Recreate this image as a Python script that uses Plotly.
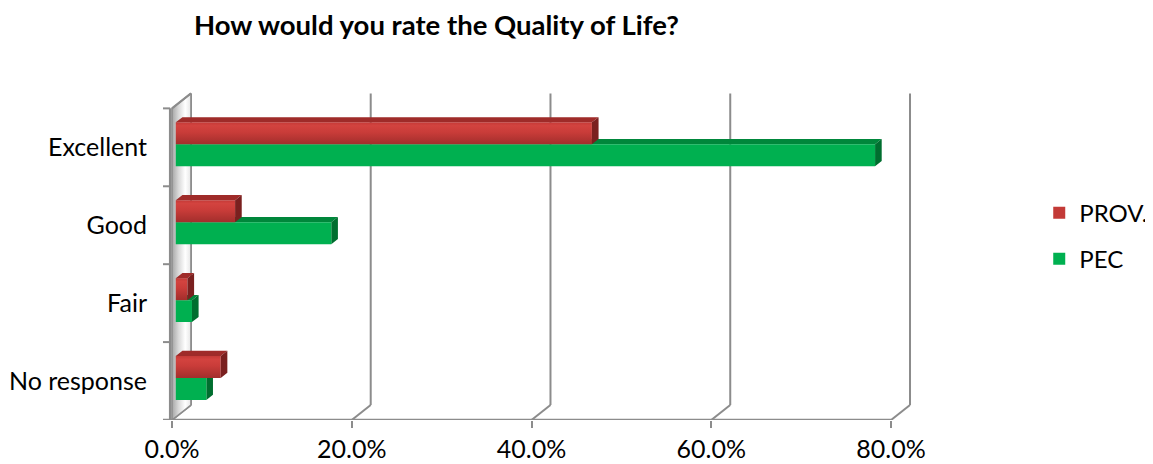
import plotly.graph_objects as go

# ---------------- data ----------------
categories = ["No response", "Fair", "Good", "Excellent"]
prov_values = [5.0, 1.3, 6.6, 46.3]      # PROV. (%)
pec_values = [3.4, 1.8, 17.3, 77.8]      # PEC (%)
x_tick_values = [0, 20, 40, 60, 80]
x_tick_labels = ["0.0%", "20.0%", "40.0%", "60.0%", "80.0%"]
series_names = ["PROV.", "PEC"]

# ---------------- 3-D geometry (data units) ----------------
DU = 2.11    # depth of the chart box along x (in %)
DV = 0.192   # depth of the chart box along y (category units)
D0, D1 = 0.2, 0.55   # bar front / back depth fraction
BH = 0.282   # bar thickness (category units)
GRID = "#8c8c8c"
FONT = "Lato"

RED_TOP, RED_SIDE = "#9f2b29", "#7a201f"
GRN_FRONT, GRN_TOP, GRN_SIDE = "#00b050", "#00873b", "#006e2f"

# page body has an 8px default margin -> figure is 8px smaller
FIG_W, FIG_H = 1145, 456

fig = go.Figure()

# left wall (side face) with metallic gradient
fig.add_trace(go.Scatter(
    x=[0, DU, DU, 0, 0], y=[0, DV, 4 + DV, 4, 0], mode="lines",
    line=dict(color=GRID, width=1.5), fill="toself",
    fillgradient=dict(type="horizontal",
                      colorscale=[[0, "#a6a6a6"], [0.35, "#d9d9d9"], [0.7, "#ffffff"], [1, "#e6e6e6"]],
                      start=0, stop=DU),
    hoverinfo="skip", showlegend=False))

x0 = D0 * DU
dv0 = D0 * DV
dd = (D1 - D0) * DU
ddv = (D1 - D0) * DV


def poly_trace(polys, color):
    xs, ys = [], []
    for p in polys:
        xs += [q[0] for q in p] + [p[0][0], None]
        ys += [q[1] for q in p] + [p[0][1], None]
    return go.Scatter(x=xs, y=ys, mode="lines", line=dict(width=0, color=color),
                      fill="toself", fillcolor=color, hoverinfo="skip", showlegend=False)


# PEC (green, lower bar of each pair) – drawn first
g_front, g_top, g_side = [], [], []
for i, g in enumerate(pec_values):
    c = i + 0.5
    vt = c + dv0
    vb = vt - BH
    g_front.append([(x0, vb), (x0 + g, vb), (x0 + g, vt), (x0, vt)])
    g_top.append([(x0, vt), (x0 + g, vt), (x0 + g + dd, vt + ddv), (x0 + dd, vt + ddv)])
    g_side.append([(x0 + g, vb), (x0 + g + dd, vb + ddv), (x0 + g + dd, vt + ddv), (x0 + g, vt)])
fig.add_trace(poly_trace(g_top, GRN_TOP))
fig.add_trace(poly_trace(g_side, GRN_SIDE))
fig.add_trace(poly_trace(g_front, GRN_FRONT))

# PROV. (red, upper bar of each pair)
r_top, r_side = [], []
for i, r in enumerate(prov_values):
    c = i + 0.5
    vb = c + dv0
    vt = vb + BH
    fig.add_trace(go.Scatter(
        x=[x0, x0 + r, x0 + r, x0, x0], y=[vb, vb, vt, vt, vb], mode="lines",
        line=dict(width=0, color="#c63b38"), fill="toself",
        fillgradient=dict(type="vertical",
                          colorscale=[[0, "#a22e2c"], [0.55, "#c93c39"], [0.85, "#d3433f"], [1, "#c53a37"]],
                          start=vb, stop=vt),
        hoverinfo="skip", showlegend=False))
    r_top.append([(x0, vt), (x0 + r, vt), (x0 + r + dd, vt + ddv), (x0 + dd, vt + ddv)])
    r_side.append([(x0 + r, vb), (x0 + r + dd, vb + ddv), (x0 + r + dd, vt + ddv), (x0 + r, vt)])
fig.add_trace(poly_trace(r_top, RED_TOP))
fig.add_trace(poly_trace(r_side, RED_SIDE))

# legend entries
fig.add_trace(go.Scatter(x=[None], y=[None], mode="markers", name=series_names[0],
                         marker=dict(symbol="square", size=12, color="#c33a37"),
                         legendgroup="a"))
fig.add_trace(go.Scatter(x=[None], y=[None], mode="markers", name=series_names[1],
                         marker=dict(symbol="square", size=12, color=GRN_FRONT),
                         legendgroup="b"))

# ---------------- frame / gridlines ----------------
shapes = []
line = dict(color=GRID, width=2)
for t in x_tick_values:
    shapes.append(dict(type="line", x0=t + DU, x1=t + DU, y0=DV, y1=4 + DV, line=line, layer="below"))
    shapes.append(dict(type="line", x0=t, x1=t + DU, y0=0, y1=DV, line=line, layer="below"))
shapes.append(dict(type="line", x0=0, x1=DU, y0=4, y1=4 + DV, line=line))
shapes.append(dict(type="line", x0=-0.2, x1=-0.2, y0=0, y1=4, line=dict(color=GRID, width=2.5)))
for k in range(5):
    shapes.append(dict(type="line", x0=-1.0, x1=-0.2, y0=k, y1=k, line=line))
shapes.append(dict(type="line", x0=-1.0, x1=x_tick_values[-1], y0=0, y1=0,
                   line=dict(color=GRID, width=2.5)))

fig.update_layout(
    width=FIG_W, height=FIG_H,
    margin=dict(l=146, r=226, t=77, b=44, autoexpand=False),
    paper_bgcolor="white", plot_bgcolor="white",
    shapes=shapes,
    title=dict(text="<b>How would you rate the Quality of Life?</b>",
               font=dict(family=FONT, size=27.5, color="black"),
               x=186 / FIG_W, xanchor="left", xref="container",
               y=1 - 17 / FIG_H, yanchor="middle", yref="container"),
    xaxis=dict(range=[-2, 84], tickvals=x_tick_values, ticktext=x_tick_labels,
               ticks="outside", ticklen=7, tickwidth=2, tickcolor=GRID,
               showgrid=False, zeroline=False, showline=False, fixedrange=True,
               automargin=False,
               tickfont=dict(family=FONT, size=25, color="black")),
    yaxis=dict(range=[0, 4.3], tickvals=[i + 0.5 for i in range(len(categories))],
               ticktext=categories, ticks="", ticklabelstandoff=6,
               showgrid=False, zeroline=False, showline=False, fixedrange=True,
               automargin=False,
               tickfont=dict(family=FONT, size=25, color="black")),
    legend=dict(x=1.1452, y=0.685, xanchor="left", yanchor="top",
                traceorder="grouped", tracegroupgap=12,
                font=dict(family=FONT, size=24, color="black"),
                bgcolor="rgba(0,0,0,0)"),
    showlegend=True,
)

fig.write_html("out.html")
